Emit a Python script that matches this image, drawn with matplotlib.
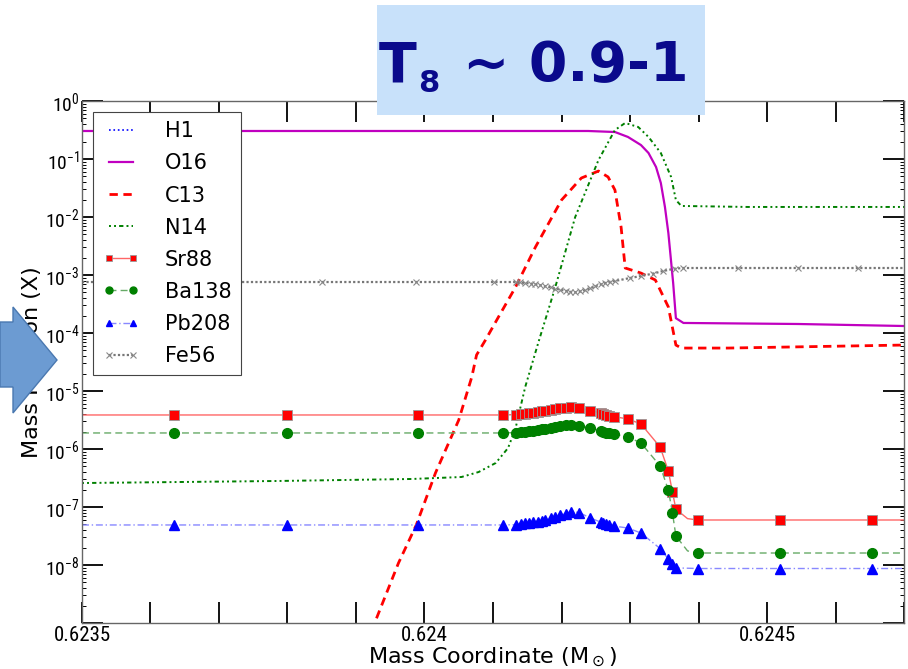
import numpy as np
import matplotlib
matplotlib.use('Agg')
import matplotlib.pyplot as plt
from matplotlib import font_manager
from matplotlib.patches import Rectangle, Polygon
from matplotlib.ticker import FixedLocator, MultipleLocator, LogLocator, NullFormatter, FuncFormatter

# ---- data (mass coordinate in Msun, mass fractions) ----

# mesh shared by the s-process isotopes
m_heavy = [0.623500, 0.623634, 0.623799, 0.623990, 0.624114, 0.624134,
           0.624141, 0.624147, 0.624153, 0.624159, 0.624165, 0.624171,
           0.624176, 0.624184, 0.624191, 0.624198, 0.624206, 0.624214,
           0.624226, 0.624242, 0.624257, 0.624261, 0.624265, 0.624270,
           0.624276, 0.624297, 0.624316, 0.624344, 0.624356, 0.624362,
           0.624367, 0.624384, 0.624399, 0.624519, 0.624654, 0.624700]
sr88 = [3.86e-6, 3.86e-6, 3.86e-6, 3.86e-6, 3.86e-6, 3.92e-6,
        3.98e-6, 4.05e-6, 4.13e-6, 4.25e-6, 4.35e-6, 4.45e-6,
        4.59e-6, 4.74e-6, 4.90e-6, 5.05e-6, 5.17e-6, 5.26e-6,
        5.13e-6, 4.59e-6, 4.18e-6, 4.01e-6, 3.89e-6, 3.77e-6,
        3.63e-6, 3.29e-6, 2.70e-6, 1.08e-6, 4.17e-7, 1.81e-7,
        9.2e-8, 6.3e-8, 5.97e-8, 5.97e-8, 5.97e-8, 5.97e-8]
ba138 = [1.89e-6, 1.89e-6, 1.89e-6, 1.89e-6, 1.89e-6, 1.92e-6,
         1.96e-6, 2.00e-6, 2.03e-6, 2.08e-6, 2.13e-6, 2.18e-6,
         2.25e-6, 2.32e-6, 2.39e-6, 2.49e-6, 2.57e-6, 2.64e-6,
         2.54e-6, 2.30e-6, 2.08e-6, 2.00e-6, 1.92e-6, 1.89e-6,
         1.82e-6, 1.61e-6, 1.27e-6, 5.1e-7, 1.96e-7, 7.9e-8,
         3.16e-8, 1.75e-8, 1.61e-8, 1.61e-8, 1.61e-8, 1.61e-8]
pb208 = [4.9e-8, 4.9e-8, 4.9e-8, 4.9e-8, 4.9e-8, 4.96e-8,
         5.10e-8, 5.20e-8, 5.30e-8, 5.45e-8, 5.62e-8, 5.83e-8,
         6.07e-8, 6.34e-8, 6.73e-8, 7.14e-8, 7.72e-8, 8.36e-8,
         8.03e-8, 6.46e-8, 5.51e-8, 5.30e-8, 5.10e-8, 4.90e-8,
         4.70e-8, 4.34e-8, 3.56e-8, 1.92e-8, 1.27e-8, 1.04e-8,
         8.9e-9, 8.8e-9, 8.7e-9, 8.7e-9, 8.7e-9, 8.7e-9]
heavy_marks = [i for i in range(1, len(m_heavy) - 1) if i != 31]

m_fe = [0.623500, 0.623714, 0.623850, 0.623988, 0.624101, 0.624133,
        0.624140, 0.624147, 0.624155, 0.624162, 0.624169, 0.624176,
        0.624184, 0.624191, 0.624198, 0.624206, 0.624213, 0.624220,
        0.624227, 0.624235, 0.624242, 0.624249, 0.624257, 0.624264,
        0.624271, 0.624278, 0.624300, 0.624316, 0.624334, 0.624348,
        0.624366, 0.624378, 0.624458, 0.624545, 0.624633, 0.624700]
fe56 = [7.57e-4, 7.57e-4, 7.57e-4, 7.57e-4, 7.57e-4, 7.57e-4,
        7.43e-4, 7.28e-4, 7.13e-4, 6.91e-4, 6.67e-4, 6.41e-4,
        6.14e-4, 5.85e-4, 5.58e-4, 5.34e-4, 5.13e-4, 5.03e-4,
        5.20e-4, 5.51e-4, 5.90e-4, 6.38e-4, 6.86e-4, 7.28e-4,
        7.66e-4, 7.88e-4, 8.87e-4, 9.60e-4, 1.06e-3, 1.17e-3,
        1.29e-3, 1.32e-3, 1.32e-3, 1.32e-3, 1.32e-3, 1.32e-3]
fe_marks = list(range(1, len(m_fe) - 1))

m_n14 = [0.623500, 0.623787, 0.623981, 0.624054, 0.624079, 0.624104,
         0.624122, 0.624133, 0.624147, 0.624166, 0.624191, 0.624220,
         0.624254, 0.624278, 0.624293, 0.624312, 0.624327, 0.624345,
         0.624360, 0.624367, 0.624375, 0.624472, 0.624700]
n14 = [2.59e-7, 2.81e-7, 3.04e-7, 3.29e-7, 4.01e-7, 5.74e-7,
       1.04e-6, 2.30e-6, 1.17e-5, 6.73e-5, 6.21e-4, 1.0e-2,
       9.6e-2, 0.316, 0.418, 0.356, 0.24, 0.127,
       0.049, 0.0196, 0.0155, 0.0149, 0.0149]

m_c13 = [0.623918, 0.623929, 0.623962, 0.623988, 0.624016, 0.624050,
         0.624069, 0.624076, 0.624089, 0.624108, 0.624133, 0.624162,
         0.624200, 0.624229, 0.624254, 0.624268, 0.624278, 0.624287,
         0.624293, 0.624316, 0.624337, 0.624356, 0.624367, 0.624375,
         0.624443, 0.624700]
c13 = [4.2e-10, 1.13e-9, 1.08e-8, 4.9e-8, 3.86e-7, 3.16e-6,
       1.74e-5, 4.18e-5, 7.57e-5, 1.89e-4, 6.21e-4, 3.04e-3,
       1.96e-2, 4.7e-2, 6.2e-2, 4.9e-2, 2.92e-2, 6.7e-3,
       1.32e-3, 1.08e-3, 8.2e-4, 2.81e-4, 6.2e-5, 5.5e-5,
       5.5e-5, 6.2e-5]

m_o16 = [0.623500, 0.624239, 0.624278, 0.624297, 0.624316, 0.624327,
         0.624338, 0.624345, 0.624351, 0.624356, 0.624363, 0.624367,
         0.624378, 0.624545, 0.624700]
o16 = [0.304, 0.304, 0.292, 0.24, 0.174, 0.127,
       0.0728, 0.0386, 0.0149, 5.3e-3, 7.3e-4, 1.8e-4,
       1.49e-4, 1.43e-4, 1.32e-4]

# hydrogen is gone here, it sits below the plotted range
m_h1 = [0.623500, 0.624700]
h1 = [1e-12, 1e-12]

xtick_vals = [0.6235, 0.624, 0.6245]
xtick_labels = ['0.6235', '0.624', '0.6245']

# ---- fonts: the tick labels in the original are a narrow face ----
names = {f.name for f in font_manager.fontManager.ttflist}
tick_font, xsize, ysize = 'DejaVu Sans', 12, 11.5
for cand in ['Liberation Sans Narrow', 'DejaVu Sans Condensed', 'Roboto Condensed']:
    if cand in names:
        tick_font, xsize, ysize = cand, 15, 14
        break

# ---- figure ----
fig = plt.figure(figsize=(9.08, 6.69), dpi=100)
W, H = 908.0, 669.0
ax = fig.add_axes([82 / W, 1 - 623 / H, 822 / W, 522 / H])

ax.plot(m_h1, h1, color='blue', ls=':', lw=1.2, label='H1')
ax.plot(m_o16, o16, color='#c000c0', ls='-', lw=1.6, label='O16')
ax.plot(m_c13, c13, color='red', ls=(0, (3, 2)), lw=2.0, label='C13')
ax.plot(m_n14, n14, color='green', ls=(0, (1, 1.6, 1, 1.6, 2.2, 1.6)), lw=1.4, label='N14')
ax.plot(m_heavy, sr88, color='#ff6666', ls='-', lw=1.0, marker='s', ms=7,
        mfc='red', mec='#999999', mew=0.6, markevery=heavy_marks, label='Sr88')
ax.plot(m_heavy, ba138, color='#66aa66', ls=(0, (5, 3)), lw=1.0, marker='o', ms=7,
        mfc='green', mec='green', markevery=heavy_marks, label='Ba138')
ax.plot(m_heavy, pb208, color='#8888ff', ls=(0, (5, 2, 1, 2)), lw=1.0, marker='^', ms=7,
        mfc='blue', mec='blue', markevery=heavy_marks, label='Pb208')
ax.plot(m_fe, fe56, color='#777777', ls=(0, (1, 1)), lw=1.6, marker='x', ms=5,
        mec='#888888', mew=0.8, markevery=fe_marks, label='Fe56')

ax.set_yscale('log')
ax.set_ylim(1e-9, 1)
ax.set_xlim(0.6235, 0.6247)
ax.xaxis.set_major_locator(FixedLocator(xtick_vals))
ax.set_xticklabels(xtick_labels)
ax.xaxis.set_minor_locator(MultipleLocator(0.0001))
ax.yaxis.set_major_locator(LogLocator(base=10, numticks=20))
ax.yaxis.set_minor_locator(LogLocator(base=10, subs=np.arange(2, 10), numticks=20))
ax.yaxis.set_minor_formatter(NullFormatter())
# the bottom decade carries no label in the original
ax.yaxis.set_major_formatter(FuncFormatter(
    lambda v, pos: '' if v < 5e-9 else r'$\mathdefault{10^{%d}}$' % round(np.log10(v))))

ax.tick_params(which='both', direction='in', top=True, right=True, colors='black')
ax.tick_params(axis='x', which='both', length=15, width=1.3, labelsize=xsize,
               labelfontfamily=tick_font, pad=2)
ax.tick_params(axis='y', which='major', length=15, width=1.3, labelsize=ysize,
               labelfontfamily=tick_font, pad=2)
ax.tick_params(axis='y', which='minor', length=3, width=0.7)
for sp in ax.spines.values():
    sp.set_color('#666666')
    sp.set_linewidth(1.0)

leg = ax.legend(loc='upper left', bbox_to_anchor=(0.0134, 0.979), fontsize=15,
                numpoints=2, frameon=True, fancybox=False, framealpha=1,
                edgecolor='#444444', handlelength=1.75, handletextpad=1.25,
                labelspacing=0.58, borderpad=0.45, borderaxespad=0)
leg.get_frame().set_linewidth(0.8)
for h in leg.legend_handles:
    h.set_markersize(5)

fig.text(493 / W, 1 - 657 / H, r'Mass Coordinate (M$_\odot$)', fontsize=16,
         ha='center', va='center')
fig.text(32 / W, 1 - 362 / H, 'Mass Fraction (X)', fontsize=16, rotation=90,
         ha='center', va='center', zorder=3)

# blue arrow from the slide
arrow = [(0, 322), (13, 322), (13, 307), (57, 360), (13, 413), (13, 387), (0, 387)]
fig.add_artist(Polygon([(px / W, 1 - py / H) for px, py in arrow], closed=True,
                       transform=fig.transFigure, facecolor='#6c9bd2',
                       edgecolor='#4a78b0', lw=1, zorder=6))

# title box
fig.add_artist(Rectangle((377 / W, 1 - 115 / H), 328 / W, 110 / H,
                         transform=fig.transFigure, facecolor='#c8e1fa',
                         edgecolor='none', zorder=6))
title_kw = dict(fontweight='bold', color='#0a0a8c', ha='left', va='baseline', zorder=7)
fig.text(379 / W, 1 - 81 / H, 'T', fontsize=40, **title_kw)
fig.text(418 / W, 1 - 92 / H, '8', fontsize=22, **title_kw)
fig.text(463 / W, 1 - 81 / H, '~ 0.9-1', fontsize=40, **title_kw)

fig.savefig('out.png', dpi=100)
